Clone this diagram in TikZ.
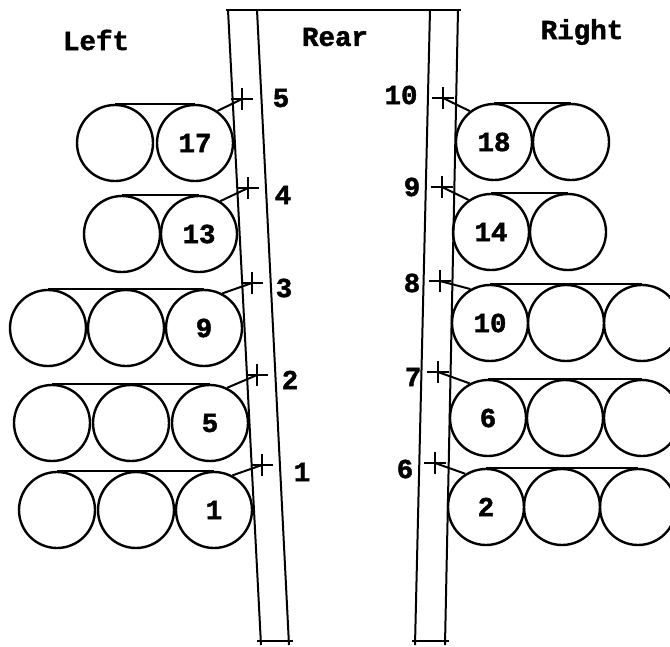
\documentclass[tikz,border=0pt]{standalone}
\usepackage{fontspec}
\newfontfamily\twfont{Liberation Mono}[BoldFeatures={FakeBold=1.6}]
\usetikzlibrary{shapes.misc}
\newcommand\lblfont{\fontsize{27.5}{29}\selectfont\twfont\bfseries}
\begin{document}
\begin{tikzpicture}[x=1pt,y=-1pt,line width=2.4pt,
  cyl/.style={circle,draw,minimum size=76pt,inner sep=0pt,font=\lblfont},
  pmark/.style={draw,cross out,rotate=45,minimum size=13pt,inner sep=0pt,line width=2pt},
  num/.style={font=\lblfont,inner sep=0pt},
  head/.style={font=\lblfont,inner sep=0pt},
  rail/.style={line width=2pt},
  tie/.style={line width=2pt}]
\useasboundingbox (0,0) rectangle (670,646);
% rails
\coordinate (LoT) at (228,10); \coordinate (LoB) at (261,645);
\coordinate (LiT) at (257,10); \coordinate (LiB) at (289,645);
\coordinate (RiT) at (430,10); \coordinate (RiB) at (415,645);
\coordinate (RoT) at (458,10); \coordinate (RoB) at (445,645);
\coordinate (TbL) at (226,10); \coordinate (TbR) at (461,10);
\coordinate (BlL) at (257,641); \coordinate (BlR) at (293,641);
\coordinate (BrL) at (412,641); \coordinate (BrR) at (449,641);
\draw[rail] (LoT) -- (LoB);
\draw[rail] (LiT) -- (LiB);
\draw[rail] (RiT) -- (RiB);
\draw[rail] (RoT) -- (RoB);
\draw[rail] (TbL) -- (TbR);
\draw[rail] (BlL) -- (BlR);
\draw[rail] (BrL) -- (BrR);
% headings
\node[head] (hl) at (96,40) {Left};
\node[head] (hr) at (335,37) {Rear};
\node[head] (hR) at (582,32) {Right};
% left rows
\node[cyl] (L1a) at (115,143) {};
\node[cyl] (L1b) at (195,143) {17};
\draw[tie] (L1a.north) -- (L1b.north);
\node[pmark] (P5) at (242,99) {};
\draw[tie] (L1b.55) -- (P5.center);
\node[num] (n5) at (281,98) {5};

\node[cyl] (L2a) at (122,234) {};
\node[cyl] (L2b) at (199,234) {13};
\draw[tie] (L2a.north) -- (L2b.north);
\node[pmark] (P4) at (248,188) {};
\draw[tie] (L2b.57) -- (P4.center);
\node[num] (n4) at (283,195) {4};

\node[cyl] (L3a) at (48,328) {};
\node[cyl] (L3b) at (126,328) {};
\node[cyl] (L3c) at (204,328) {9};
\draw[tie] (L3a.north) -- (L3c.north);
\node[pmark] (P3) at (252,283) {};
\draw[tie] (L3c.62) -- (P3.center);
\node[num] (n3) at (284,288) {3};

\node[cyl] (L4a) at (52,423) {};
\node[cyl] (L4b) at (131,423) {};
\node[cyl] (L4c) at (210,423) {5};
\draw[tie] (L4a.north) -- (L4c.north);
\node[pmark] (P2) at (257,375) {};
\draw[tie] (L4c.64) -- (P2.center);
\node[num] (n2) at (290,380) {2};

\node[cyl] (L5a) at (57,510) {};
\node[cyl] (L5b) at (136,510) {};
\node[cyl] (L5c) at (214,510) {1};
\draw[tie] (L5a.north) -- (L5c.north);
\node[pmark] (P1) at (262,465) {};
\draw[tie] (L5c.62) -- (P1.center);
\node[num] (n1) at (302,472) {1};

% right rows
\node[cyl] (R1a) at (494,142) {18};
\node[cyl] (R1b) at (571,142) {};
\draw[tie] (R1a.north) -- (R1b.north);
\node[pmark] (P10) at (443,98) {};
\draw[tie] (R1a.128) -- (P10.center);
\node[num] (n10) at (401,95) {10};

\node[cyl] (R2a) at (491,232) {14};
\node[cyl] (R2b) at (568,232) {};
\draw[tie] (R2a.north) -- (R2b.north);
\node[pmark] (P9) at (442,187) {};
\draw[tie] (R2a.125) -- (P9.center);
\node[num] (n9) at (412,187) {9};

\node[cyl] (R3a) at (490,323) {10};
\node[cyl] (R3b) at (566,323) {};
\node[cyl] (R3c) at (642,323) {};
\draw[tie] (R3a.north) -- (R3c.north);
\node[pmark] (P8) at (440,281) {};
\draw[tie] (R3a.120) -- (P8.center);
\node[num] (n8) at (412,283) {8};

\node[cyl] (R4a) at (488,418) {6};
\node[cyl] (R4b) at (565,418) {};
\node[cyl] (R4c) at (642,418) {};
\draw[tie] (R4a.north) -- (R4c.north);
\node[pmark] (P7) at (438,372) {};
\draw[tie] (R4a.118) -- (P7.center);
\node[num] (n7) at (413,377) {7};

\node[cyl] (R5a) at (486,507) {2};
\node[cyl] (R5b) at (562,507) {};
\node[cyl] (R5c) at (638,507) {};
\draw[tie] (R5a.north) -- (R5c.north);
\node[pmark] (P6) at (435,463) {};
\draw[tie] (R5a.122) -- (P6.center);
\node[num] (n6) at (405,469) {6};
\end{tikzpicture}
\end{document}
